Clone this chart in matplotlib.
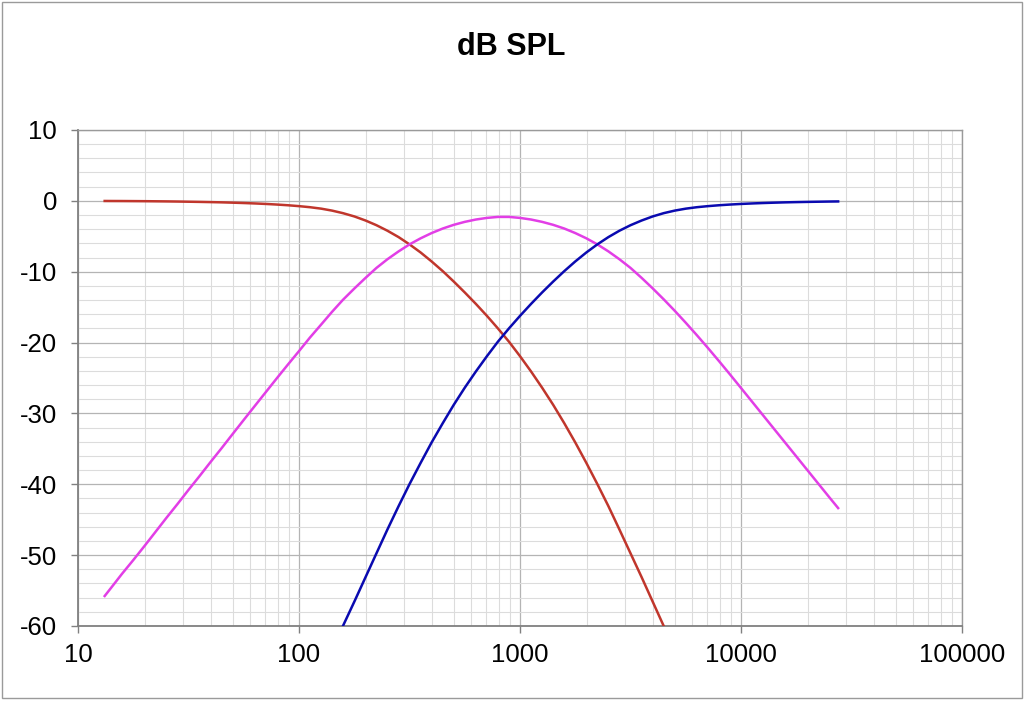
import numpy as np
import matplotlib.pyplot as plt
from matplotlib.ticker import FixedLocator, LogLocator, MultipleLocator, NullFormatter
from matplotlib.patches import Rectangle

plt.rcParams['font.family'] = ['Liberation Sans', 'DejaVu Sans']

# valores (Hz, dB)
freq_low = [13.2, 14.1, 15.8, 17.8, 20, 22.4, 25.1, 28.2, 31.6, 35.5, 39.8, 44.7,
            50.1, 56.2, 63.1, 70.8, 79.4, 89.1, 100, 112, 126, 141, 158, 178, 200,
            224, 251, 282, 316, 355, 398, 447, 501, 562, 631, 708, 794, 891, 1000,
            1122, 1259, 1413, 1585, 1778, 1995, 2239, 2512, 2818, 3162, 3548, 3981,
            4467]
db_low = [-0.02, -0.025, -0.03, -0.04, -0.05, -0.065, -0.08, -0.1, -0.125, -0.15,
          -0.18, -0.215, -0.26, -0.31, -0.37, -0.44, -0.525, -0.625, -0.75, -0.9,
          -1.105, -1.38, -1.74, -2.205, -2.78, -3.44, -4.215, -5.115, -6.14, -7.29,
          -8.555, -9.925, -11.385, -12.925, -14.54, -16.23, -18.005, -19.88, -21.93,
          -24.09, -26.38, -28.8, -31.38, -34.1, -36.98, -39.99, -43.1, -46.4, -49.75,
          -53.1, -56.55, -60.0]

freq_band = [13.2, 14.1, 15.8, 17.8, 20, 22.4, 25.1, 28.2, 31.6, 35.5, 39.8, 44.7,
             50.1, 56.2, 63.1, 70.8, 79.4, 89.1, 100, 112, 126, 141, 158, 178, 200,
             224, 251, 282, 316, 355, 398, 447, 501, 562, 631, 708, 794, 891, 1000,
             1122, 1259, 1413, 1585, 1778, 1995, 2239, 2512, 2818, 3162, 3548, 3981,
             4467, 5012, 5623, 6310, 7079, 7943, 8913, 10000, 11220, 12589, 14125,
             15849, 17783, 19953, 22387, 25119, 27500]
db_band = [-55.77, -54.63, -52.65, -50.68, -48.7, -46.73, -44.75, -42.78, -40.8,
           -38.83, -36.85, -34.88, -32.9, -30.92, -28.94, -26.98, -25.03, -23.1,
           -21.2, -19.3, -17.45, -15.67, -13.97, -12.37, -10.87, -9.47, -8.25, -7.14,
           -6.15, -5.29, -4.55, -3.91, -3.39, -2.97, -2.64, -2.41, -2.27, -2.27,
           -2.41, -2.64, -2.97, -3.39, -3.91, -4.55, -5.29, -6.15, -7.14, -8.25,
           -9.47, -10.87, -12.35, -13.9, -15.52, -17.21, -18.96, -20.76, -22.61,
           -24.5, -26.42, -28.35, -30.28, -32.21, -34.14, -36.07, -38.0, -39.93,
           -41.86, -43.36]

freq_high = [158, 178, 200, 224, 251, 282, 316, 355, 398, 447, 501, 562, 631, 708,
             794, 891, 1000, 1122, 1259, 1413, 1585, 1778, 1995, 2239, 2512, 2818,
             3162, 3548, 3981, 4467, 5012, 5623, 6310, 7079, 7943, 8913, 10000, 11220,
             12589, 14125, 15849, 17783, 19953, 22387, 25119, 27500]
db_high = [-60.0, -56.55, -53.1, -49.75, -46.4, -43.1, -39.99, -36.98, -34.1, -31.38,
           -28.8, -26.38, -24.09, -21.93, -19.88, -18.005, -16.23, -14.54, -12.925,
           -11.385, -9.925, -8.555, -7.29, -6.14, -5.115, -4.215, -3.44, -2.78,
           -2.205, -1.74, -1.38, -1.105, -0.9, -0.75, -0.625, -0.525, -0.44, -0.37,
           -0.31, -0.26, -0.215, -0.18, -0.15, -0.125, -0.1, -0.085]

x_ticks = [10, 100, 1000, 10000, 100000]
y_ticks = [-60, -50, -40, -30, -20, -10, 0, 10]

fig = plt.figure(figsize=(10.24, 7.01), dpi=100)
ax = fig.add_axes([0.0762, 0.107, 0.8633, 0.7076])

ax.plot(freq_low, db_low, color='#c0362c', lw=1.8, zorder=3)
ax.plot(freq_band, db_band, color='#e23ee6', lw=1.8, zorder=3)
ax.plot(freq_high, db_high, color='#0a0ab0', lw=1.8, zorder=3)

ax.set_xscale('log')
ax.set_xlim(10, 100000)
ax.set_ylim(-60, 10)

ax.xaxis.set_major_locator(FixedLocator(x_ticks))
ax.xaxis.set_minor_locator(LogLocator(base=10, subs=np.arange(2, 10)))
ax.xaxis.set_minor_formatter(NullFormatter())
ax.set_xticklabels([str(t) for t in x_ticks])
ax.yaxis.set_major_locator(FixedLocator(y_ticks))
ax.yaxis.set_minor_locator(MultipleLocator(2))
ax.set_yticklabels([str(t) for t in y_ticks])

ax.grid(which='major', color='#b4b4b4', lw=0.9)
ax.grid(which='minor', color='#dcdcdc', lw=0.8)
ax.set_axisbelow(True)

ax.tick_params(which='major', direction='out', length=5, width=1, color='#808080',
               labelsize=18.5)
ax.tick_params(axis='x', pad=7)
ax.tick_params(axis='y', pad=10)
ax.tick_params(which='minor', length=0)
for s in ax.spines.values():
    s.set_color('#9a9a9a')
    s.set_linewidth(1)
ax.spines['left'].set_color('#808080')
ax.spines['bottom'].set_color('#808080')
ax.spines['left'].set_linewidth(1.3)
ax.spines['bottom'].set_linewidth(1.3)

fig.text(0.499, 0.933, 'dB SPL', ha='center', va='center', fontsize=22, fontweight='bold')

# moldura fina em volta da figura
fig.patches.append(Rectangle((0.002, 0.004), 0.996, 0.993, transform=fig.transFigure,
                             fill=False, edgecolor='#9a9a9a', lw=1))

fig.savefig('out.png', dpi=100)
